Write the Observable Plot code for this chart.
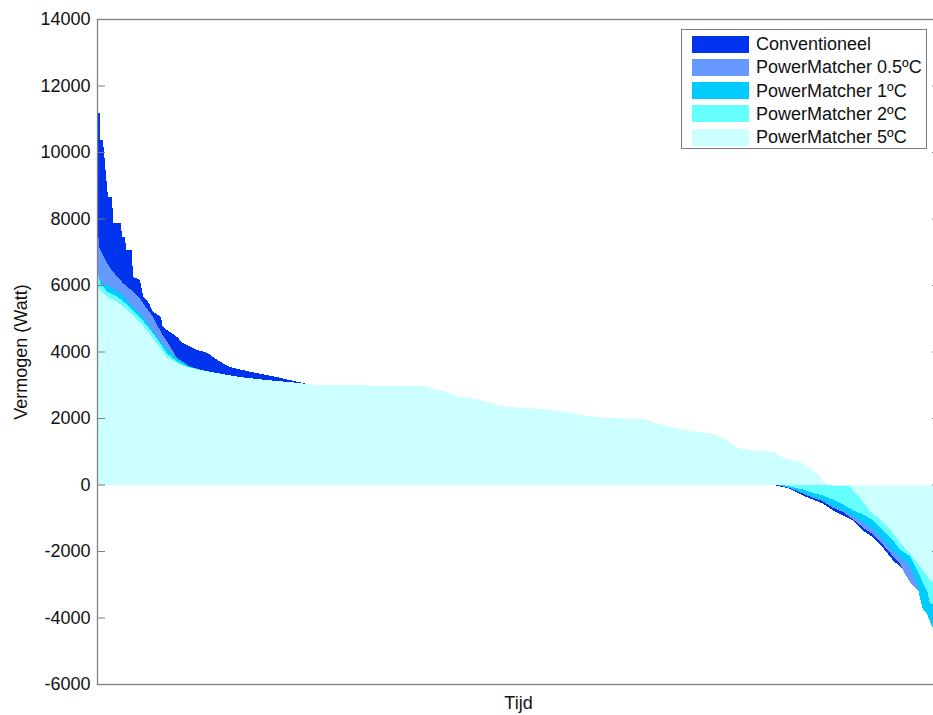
<!DOCTYPE html>
<html>
<head>
<meta charset="utf-8">
<script src="https://cdn.jsdelivr.net/npm/d3@7"></script>
<script src="https://cdn.jsdelivr.net/npm/@observablehq/plot@0.6"></script>
<style>
  html, body { margin: 0; background: #fff; overflow: hidden; }
  #chart { position: relative; width: 933px; height: 715px; overflow: hidden; }
  #chart svg { max-width: none !important; }
  .legend {
    position: absolute; left: 681px; top: 29px; width: 246px; height: 120px;
    border: 1px solid #7a7a7a; background: #fff; box-sizing: border-box;
    font-family: "Liberation Sans", Arial, sans-serif; font-size: 18px; color: #111;
  }
  .legend .row { position: absolute; left: 10px; height: 18px; display: flex; align-items: center; }
  .legend .swatch { width: 57px; height: 17px; margin-right: 7px; }
  .legend .name { white-space: nowrap; line-height: 18px; }
</style>
</head>
<body>
<div id="chart"></div>
<script>
// Load duration curves: sorted power per time step, one area per control strategy.
const tijdLabel = "Tijd";
const vermogenLabel = "Vermogen (Watt)";
const vermogenTicks = [-6000, -4000, -2000, 0, 2000, 4000, 6000, 8000, 10000, 12000, 14000];
const reeksNamen = ["Conventioneel", "PowerMatcher 0.5ºC", "PowerMatcher 1ºC", "PowerMatcher 2ºC", "PowerMatcher 5ºC"];
const reeksKleuren = ["#0033ee", "#6699ff", "#00ccff", "#66ffff", "#ccffff"];

// Peak part of each curve: [time step, watt]
const conventioneelBegin = [[0,11160],[3,11160],[4,10360],[7,10360],[13,8650],[18,8650],[19,7860],[28,7860],[30,7440],[33,7440],[35,7050],[41,7050],[43,6240],[51,6150],[55,5640],[62,5450],[66,5200],[76,5040],[78,4740],[95,4440],[102,4250],[119,4050],[131,3960],[143,3740],[158,3530],[173,3440],[190,3350],[214,3230],[229,3140],[245,3050],[252,3000]];
const pm05Begin = [[0,7900],[3,7100],[12,6650],[19,6400],[31,6050],[43,5800],[51,5600],[59,5300],[65,5100],[71,4800],[78,4500],[87,4150],[95,3800],[110,3550],[131,3400]];
const pm1Begin = [[0,6750],[1,6250],[7,6060],[19,5900],[31,5700],[39,5450],[51,5150],[59,4900],[67,4600],[75,4300],[87,4000],[95,3800],[110,3550],[131,3400]];
const pm2Begin = [[0,6450],[4,6050],[12,5800],[24,5650],[36,5400],[48,5100],[59,4800],[71,4400],[83,3950],[95,3700],[107,3550],[122,3450]];
const pm5Begin = [[0,5940],[12,5640],[24,5500],[36,5250],[48,4950],[59,4650],[71,4250],[83,3830],[95,3650],[107,3530],[122,3440],[143,3350],[170,3230],[202,3140],[241,3050],[255,3000]];

// Middle part, shared by all strategies
const middenDeel = [[262,3000],[393,2950],[399,2900],[407,2830],[416,2780],[423,2700],[431,2630],[451,2570],[463,2480],[475,2400],[487,2330],[530,2270],[558,2180],[574,2100],[589,2030],[653,1950],[663,1850],[672,1790],[696,1640],[716,1570],[728,1550],[740,1430],[748,1340]];

// Tail: towards and below zero (feed-in)
const overigAfloop = [[755,1100],[770,800],[784,500],[796,250],[803,100]];
const conventioneelStaart = [[806,-30],[815,-80],[823,-130],[831,-230],[838,-330],[850,-450],[862,-570],[874,-780],[886,-930],[898,-1080],[910,-1400],[922,-1590],[933,-1890],[945,-2270],[954,-2480],[960,-2650],[966,-2800],[974,-2900],[1000,-3000]];
const pm05Staart = [[808,-20],[823,-110],[838,-270],[850,-400],[862,-500],[874,-700],[886,-830],[898,-1050],[910,-1300],[922,-1500],[933,-1800],[945,-2150],[954,-2400],[960,-2700],[966,-2960],[974,-3170],[980,-3250],[1000,-3350]];
const pm1Staart = [[808,-10],[823,-90],[838,-240],[850,-370],[862,-470],[874,-650],[886,-780],[898,-950],[910,-1150],[922,-1350],[933,-1650],[945,-2000],[954,-2200],[960,-2300],[966,-2500],[974,-3000],[977,-3380],[981,-3770],[986,-3900],[989,-4100],[992,-4280],[1000,-4450]];
const pm2Staart = [[815,-20],[823,-60],[838,-150],[850,-250],[862,-330],[874,-450],[886,-600],[898,-780],[910,-900],[922,-1080],[933,-1370],[945,-1670],[954,-1970],[966,-2170],[974,-2570],[981,-2960],[986,-3200],[989,-3560],[1000,-3700]];
const pm5Staart = [[755,1200],[761,1100],[776,1040],[784,1010],[803,980],[815,800],[823,740],[835,680],[843,560],[850,440],[856,300],[862,140],[867,-20],[894,-60],[906,-400],[918,-800],[930,-1050],[942,-1350],[954,-1750],[966,-2100],[977,-2450],[989,-2850],[1000,-3100]];

// Assemble full curves: own peak, then the 5ºC shoulder up to the plateau, the shared middle and the own tail
function curve(begin, staart) {
  const last = begin[begin.length - 1][0];
  const shoulder = pm5Begin.filter(([t]) => t > last);
  return begin.concat(shoulder, middenDeel, overigAfloop, staart);
}
const curves = [
  curve(conventioneelBegin, conventioneelStaart),
  curve(pm05Begin, pm05Staart),
  curve(pm1Begin, pm1Staart),
  curve(pm2Begin, pm2Staart),
  pm5Begin.concat(middenDeel, pm5Staart)
];

const areas = curves.map((pts, i) =>
  Plot.areaY(pts.map(([t, w]) => ({t, w})), {
    x: "t", y: "w", curve: "linear", fill: reeksKleuren[i], shapeRendering: "crispEdges"
  })
);

const chart = Plot.plot({
  width: 960,
  height: 715,
  marginLeft: 97,
  marginRight: 21,
  marginTop: 19,
  marginBottom: 31,
  x: {domain: [0, 1000], axis: null},
  y: {domain: [-6000, 14000], axis: null},
  style: {fontFamily: "'Liberation Sans', Arial, sans-serif", fontSize: "18px", color: "#111", background: "#fff", maxWidth: "none"},
  marks: [
    ...areas,
    Plot.frame({stroke: "#808080", strokeWidth: 1.3}),
    Plot.axisY(vermogenTicks, {anchor: "left", tickSize: -8, tickPadding: 15, tickFormat: d => String(d), stroke: "#808080", label: null, fontSize: 18}),
    Plot.axisY(vermogenTicks, {anchor: "right", tickSize: -8, tickFormat: () => "", stroke: "#808080", label: null}),
    Plot.text([vermogenLabel], {text: d => d, frameAnchor: "left", rotate: -90, dx: -76, textAnchor: "middle", lineAnchor: "middle", fontSize: 18}),
    Plot.text([tijdLabel], {text: d => d, frameAnchor: "bottom", dy: 19, textAnchor: "middle", lineAnchor: "middle", fontSize: 18})
  ]
});

const root = document.getElementById("chart");
root.appendChild(chart);

// Legend box in the upper right corner of the axes
const legend = document.createElement("div");
legend.className = "legend";
reeksNamen.forEach((name, i) => {
  const row = document.createElement("div");
  row.className = "row";
  row.style.top = (5 + i * 23.3) + "px";
  const sw = document.createElement("div");
  sw.className = "swatch";
  sw.style.background = reeksKleuren[i];
  const label = document.createElement("span");
  label.className = "name";
  label.textContent = name;
  row.appendChild(sw);
  row.appendChild(label);
  legend.appendChild(row);
});
root.appendChild(legend);
</script>
</body>
</html>
